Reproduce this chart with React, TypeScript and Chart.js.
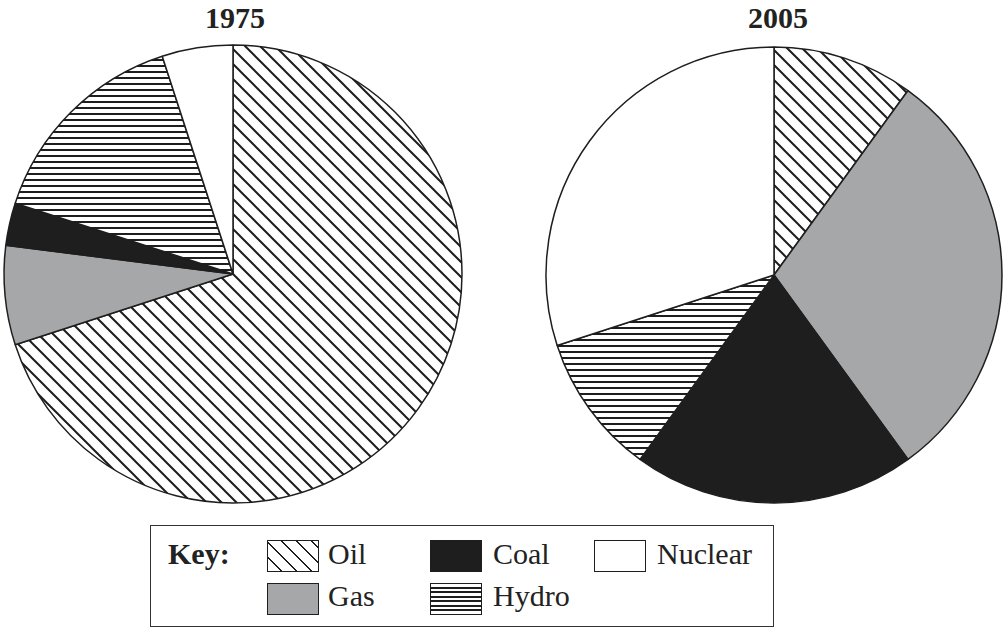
import React, { useEffect, useRef } from "react";
import { Chart, registerables } from "chart.js";

Chart.register(...registerables);

const categories = ["Oil", "Gas", "Coal", "Hydro", "Nuclear"];
const years = ["1975", "2005"];
const values1975 = [70, 7, 3, 15, 5];
const values2005 = [10, 30, 20, 10, 30];

const FONT = "'Liberation Serif', 'Times New Roman', serif";
const INK = "#1e1e1e";
const GAS = "#a6a7a9";

function makeDiagonal(): CanvasPattern | string {
  const c = document.createElement("canvas");
  c.width = 15;
  c.height = 15;
  const g = c.getContext("2d")!;
  g.fillStyle = "#fff";
  g.fillRect(0, 0, 15, 15);
  g.strokeStyle = INK;
  g.lineWidth = 2;
  g.beginPath();
  g.moveTo(-3, -3);
  g.lineTo(18, 18);
  g.moveTo(-3, 12);
  g.lineTo(3, 18);
  g.moveTo(12, -3);
  g.lineTo(18, 3);
  g.stroke();
  return g.createPattern(c, "repeat") || "#fff";
}

function makeHorizontal(): CanvasPattern | string {
  const c = document.createElement("canvas");
  c.width = 6;
  c.height = 6;
  const g = c.getContext("2d")!;
  g.fillStyle = "#fff";
  g.fillRect(0, 0, 6, 6);
  g.fillStyle = INK;
  g.fillRect(0, 0, 6, 2);
  return g.createPattern(c, "repeat") || "#fff";
}

function PieChart({ values, radius, size }: { values: number[]; radius: number; size: number }) {
  const ref = useRef<HTMLCanvasElement | null>(null);
  useEffect(() => {
    if (!ref.current) return;
    const colors = [makeDiagonal(), GAS, INK, makeHorizontal(), "#ffffff"];
    const chart = new Chart(ref.current, {
      type: "pie",
      data: {
        labels: categories,
        datasets: [
          {
            data: values,
            backgroundColor: colors as any,
            borderColor: INK,
            borderWidth: 1.5,
            radius: radius,
            hoverOffset: 0,
          } as any,
        ],
      },
      options: {
        animation: false,
        responsive: false,
        devicePixelRatio: 1,
        layout: { padding: 0 },
        events: [],
        plugins: {
          legend: { display: false },
          tooltip: { enabled: false },
          title: { display: false },
        },
      },
    });
    return () => chart.destroy();
  }, [values, radius]);
  return <canvas ref={ref} width={size} height={size} />;
}

const abs = (left: number, top: number): React.CSSProperties => ({
  position: "absolute",
  left,
  top,
});

const textStyle: React.CSSProperties = {
  fontFamily: FONT,
  fontSize: 30,
  lineHeight: "30px",
  color: "#222",
  whiteSpace: "nowrap",
};

const swatchBase: React.CSSProperties = {
  position: "absolute",
  width: 52,
  height: 32,
  boxSizing: "border-box",
  border: `1.5px solid ${INK}`,
};

const swatchFill: Record<string, string> = {
  Oil: `repeating-linear-gradient(45deg, #fff 0px, #fff 8.6px, ${INK} 8.6px, ${INK} 10.6px)`,
  Gas: GAS,
  Coal: INK,
  Hydro: `repeating-linear-gradient(180deg, #fff 0px, #fff 2.5px, ${INK} 2.5px, ${INK} 4.5px)`,
  Nuclear: "#fff",
};

const legendItems = [
  { name: "Oil", sx: 267, sy: 540, tx: 328, ty: 539 },
  { name: "Coal", sx: 430, sy: 540, tx: 493, ty: 539 },
  { name: "Nuclear", sx: 594, sy: 540, tx: 657, ty: 539 },
  { name: "Gas", sx: 267, sy: 583, tx: 328, ty: 581 },
  { name: "Hydro", sx: 430, sy: 583, tx: 493, ty: 581 },
];

export default function App() {
  useEffect(() => {
    document.body.style.margin = "0";
  }, []);
  return (
    <div
      style={{
        position: "relative",
        width: 1005,
        height: 628,
        overflow: "hidden",
        background: "#fff",
      }}
    >
      <div
        style={{
          ...textStyle,
          ...abs(135, 3),
          width: 200,
          textAlign: "center",
          fontWeight: "bold",
        }}
      >
        {years[0]}
      </div>
      <div
        style={{
          ...textStyle,
          ...abs(678, 3),
          width: 200,
          textAlign: "center",
          fontWeight: "bold",
        }}
      >
        {years[1]}
      </div>
      <div style={abs(0, 41)}>
        <PieChart values={values1975} radius={229} size={466} />
      </div>
      <div style={abs(544, 45)}>
        <PieChart values={values2005} radius={228} size={460} />
      </div>
      <div
        style={{
          ...abs(150, 525),
          width: 624,
          height: 102,
          boxSizing: "border-box",
          border: "1.5px solid #333",
        }}
      />
      <div style={{ ...textStyle, ...abs(168, 539), fontWeight: "bold" }}>Key:</div>
      {legendItems.map((it) => (
        <React.Fragment key={it.name}>
          <div style={{ ...swatchBase, left: it.sx, top: it.sy, background: swatchFill[it.name] }} />
          <div style={{ ...textStyle, ...abs(it.tx, it.ty) }}>{it.name}</div>
        </React.Fragment>
      ))}
    </div>
  );
}
